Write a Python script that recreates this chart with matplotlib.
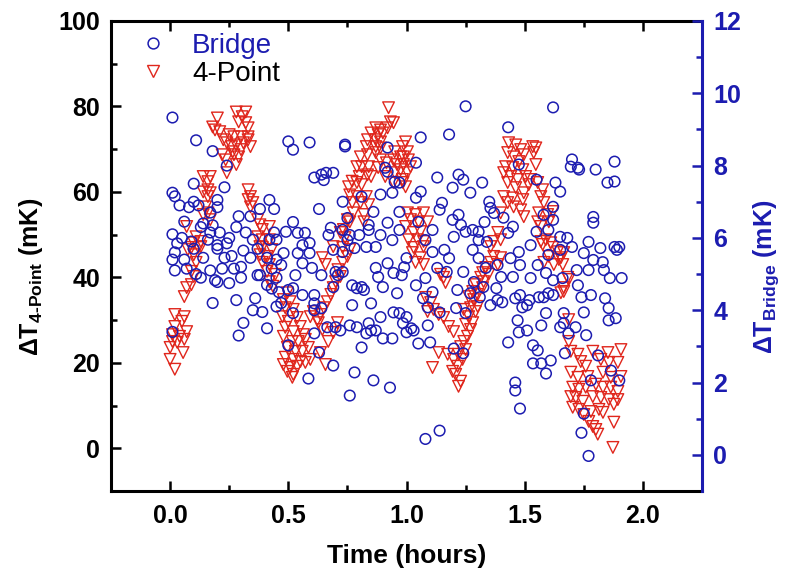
import matplotlib
matplotlib.use('Agg')
import matplotlib.pyplot as plt
from matplotlib.lines import Line2D
import numpy as np

# Bridge data: (time in hours, dT in mK) -> right axis
bridge_pts = [
    (0.01, 9.33), (0.11, 8.70), (0.18, 8.40), (0.24, 8.00), (0.10, 7.50), (0.01, 7.25), (0.02, 7.15), (0.23, 7.40),
    (0.04, 6.90), (0.10, 7.00), (0.12, 6.90), (0.08, 6.85), (0.20, 7.05), (0.20, 6.85), (0.17, 6.70),
    (0.06, 6.45), (0.14, 6.40), (0.18, 6.35), (0.29, 6.60), (0.34, 6.60), (0.38, 6.80), (0.42, 7.05), (0.44, 6.80),
    (0.01, 6.10), (0.05, 6.00), (0.13, 6.30), (0.17, 6.15), (0.21, 6.15), (0.25, 6.00), (0.28, 6.30), (0.32, 6.15), (0.44, 6.15),
    (0.03, 5.85), (0.09, 5.90), (0.16, 5.95), (0.20, 5.80), (0.24, 5.85), (0.35, 5.95), (0.42, 5.95), (0.45, 5.95),
    (0.02, 5.60), (0.10, 5.70), (0.20, 5.70), (0.31, 5.65), (0.37, 5.70),
    (0.01, 5.40), (0.06, 5.40), (0.14, 5.45), (0.23, 5.45), (0.26, 5.50), (0.34, 5.45), (0.41, 5.45), (0.45, 5.40),
    (0.02, 5.10), (0.07, 5.15), (0.17, 5.10), (0.22, 5.15), (0.27, 5.15), (0.30, 5.20), (0.37, 4.97), (0.43, 5.15), (0.47, 5.25),
    (0.11, 5.00), (0.13, 4.90), (0.30, 4.90), (0.38, 4.97), (0.41, 4.70), (0.45, 4.90),
    (0.19, 4.83), (0.20, 4.78), (0.25, 4.75), (0.43, 4.60), (0.46, 4.50),
    (0.18, 4.20), (0.28, 4.28), (0.36, 4.33), (0.35, 4.00), (0.39, 3.95), (0.45, 4.10), (0.47, 4.20),
    (0.01, 3.40), (0.31, 3.65), (0.29, 3.30), (0.41, 3.50),
    (0.50, 8.67), (0.52, 8.44), (0.59, 8.64), (0.74, 8.53), (0.74, 8.58),
    (0.61, 7.67), (0.64, 7.75), (0.66, 7.80), (0.69, 7.80), (0.65, 7.60),
    (0.92, 8.50), (0.92, 7.83), (0.91, 7.94), (0.95, 7.55), (0.97, 7.53),
    (0.73, 7.00), (0.81, 7.14), (0.89, 7.20), (0.86, 6.72), (0.94, 7.25),
    (0.63, 6.80), (0.75, 6.55), (0.97, 6.72),
    (0.52, 6.44), (0.49, 6.17), (0.54, 6.14), (0.57, 6.14), (0.56, 5.80), (0.59, 5.86), (0.68, 6.28), (0.67, 6.08),
    (0.73, 6.22), (0.76, 6.08), (0.80, 6.08), (0.84, 6.36), (0.84, 6.22), (0.89, 6.08), (0.92, 6.42), (0.94, 5.94),
    (0.97, 6.22), (0.78, 5.72), (0.83, 5.75), (0.75, 5.94),
    (0.48, 5.58), (0.54, 5.58), (0.59, 5.58), (0.69, 5.67), (0.73, 5.61), (0.87, 5.75),
    (0.53, 4.97), (0.56, 5.30), (0.60, 5.17), (0.64, 4.97), (0.70, 5.06), (0.71, 4.97), (0.73, 5.06), (0.87, 5.17),
    (0.88, 4.92), (0.92, 5.30), (0.945, 5.03), (0.98, 4.97),
    (0.50, 4.56), (0.52, 4.61), (0.56, 4.42), (0.61, 4.42), (0.69, 4.64), (0.77, 4.69), (0.79, 4.61), (0.81, 4.64),
    (0.82, 4.56), (0.90, 4.64), (0.96, 4.47),
    (0.52, 3.92), (0.61, 4.19), (0.61, 4.00), (0.64, 4.06), (0.77, 4.14), (0.85, 4.19), (0.89, 3.81), (0.945, 3.94), (0.97, 3.92),
    (0.665, 3.53), (0.70, 3.53), (0.72, 3.44), (0.76, 3.58), (0.79, 3.53), (0.84, 3.64), (0.83, 3.36), (0.85, 3.44),
    (0.87, 3.44), (0.90, 3.22), (0.94, 3.22),
    (0.61, 3.36), (0.50, 3.03), (0.81, 2.97), (0.63, 2.83),
    (0.69, 2.47), (0.78, 2.28), (0.585, 2.11), (0.86, 2.06), (0.93, 1.86), (0.76, 1.64),
    (1.25, 9.64), (1.43, 9.06), (1.06, 8.78), (1.18, 8.86), (1.04, 8.08), (1.475, 8.03),
    (1.13, 7.67), (1.22, 7.75), (1.24, 7.61), (1.32, 7.53), (1.195, 7.39), (1.27, 7.25),
    (1.06, 7.28), (1.04, 7.11), (1.15, 6.97), (1.14, 6.78), (1.35, 7.00), (1.355, 6.83), (1.37, 6.69),
    (1.22, 6.64), (1.195, 6.50), (1.23, 6.36), (1.33, 6.44), (1.41, 6.56), (1.45, 6.31),
    (1.05, 6.44), (1.11, 6.22), (1.20, 6.03), (1.25, 6.17), (1.28, 6.22), (1.305, 6.17), (1.305, 5.94), (1.34, 5.89),
    (1.43, 6.14), (1.08, 5.94),
    (1.00, 5.44), (0.99, 5.19), (1.11, 5.61), (1.16, 5.67), (1.18, 5.44), (1.13, 5.17), (1.17, 5.06), (1.24, 5.06),
    (1.28, 5.67), (1.305, 5.44), (1.335, 5.17), (1.385, 5.25), (1.44, 5.44), (1.475, 5.61), (1.48, 5.25),
    (1.04, 4.69), (1.08, 4.89), (1.11, 4.50), (1.215, 4.56), (1.27, 4.47), (1.325, 4.64), (1.40, 4.92), (1.45, 4.92),
    (1.285, 4.78), (1.38, 4.61),
    (1.07, 4.33), (1.09, 4.08), (1.14, 3.94), (1.21, 4.06), (1.25, 3.92), (1.31, 4.36), (1.355, 4.14), (1.385, 4.28),
    (1.405, 4.22), (1.46, 4.33), (1.48, 4.42),
    (1.00, 3.81), (0.985, 3.64), (1.02, 3.50), (1.00, 3.39), (1.09, 3.58), (1.03, 3.44),
    (1.05, 3.08), (1.10, 3.11), (1.20, 2.94), (1.24, 2.81), (1.43, 3.11), (1.47, 3.72), (1.475, 3.39),
    (1.46, 2.00), (1.46, 1.78), (1.48, 1.28),
    (1.08, 0.44), (1.14, 0.67),
    (1.62, 9.61), (1.70, 8.17), (1.695, 7.97), (1.73, 7.89), (1.725, 7.94), (1.80, 7.89), (1.88, 8.11),
    (1.63, 7.53), (1.65, 7.28), (1.85, 7.53), (1.88, 7.56), (1.55, 7.61),
    (1.62, 6.86), (1.58, 6.64), (1.62, 6.50), (1.79, 6.58), (1.79, 6.42), (1.55, 6.17), (1.60, 6.22),
    (1.65, 6.03), (1.68, 6.00), (1.77, 5.89), (1.525, 5.80), (1.70, 5.75), (1.82, 5.72), (1.88, 5.75), (1.90, 5.75),
    (1.60, 5.53), (1.65, 5.67), (1.75, 5.58), (1.79, 5.39), (1.83, 5.33), (1.89, 5.67),
    (1.555, 5.25), (1.59, 5.03), (1.525, 4.89), (1.62, 4.83), (1.66, 4.89), (1.72, 5.11), (1.77, 5.11), (1.835, 5.11),
    (1.86, 4.89), (1.91, 4.89),
    (1.725, 4.69), (1.60, 4.47), (1.62, 4.42), (1.74, 4.36), (1.78, 4.42), (1.52, 4.28), (1.56, 4.36), (1.58, 4.36),
    (1.49, 4.08), (1.51, 4.14), (1.84, 4.33), (1.855, 4.06),
    (1.59, 3.92), (1.665, 3.92), (1.75, 3.94), (1.57, 3.58), (1.51, 3.44), (1.65, 3.53), (1.665, 3.64), (1.685, 3.36),
    (1.715, 3.53), (1.855, 3.72), (1.885, 3.78), (1.76, 3.31),
    (1.535, 3.03), (1.555, 2.89), (1.67, 2.81), (1.61, 2.61), (1.535, 2.53), (1.57, 2.53), (1.59, 2.25), (1.81, 2.75),
    (1.865, 2.33), (1.90, 2.06), (1.78, 2.06),
    (1.75, 1.14), (1.74, 0.61), (1.77, -0.03),
]

# 4-Point data: (time in hours, dT in mK) -> left axis
four_point_pts = [
    (0.02, 31.3), (0.06, 30.8), (0.05, 29.7), (0.02, 28.5), (0.07, 27.3), (0.01, 26.6), (0.04, 26.2), (0.01, 25.0),
    (0.03, 24.8), (0.00, 23.6), (0.055, 22.4), (0.00, 20.8), (0.02, 18.5), (0.06, 25.5),
    (0.09, 47.0), (0.13, 47.2), (0.10, 45.3), (0.11, 43.5), (0.09, 41.4), (0.10, 40.2), (0.09, 38.3), (0.07, 37.6), (0.06, 35.5),
    (0.11, 49.5), (0.13, 48.4), (0.10, 48.1), (0.12, 47.0), (0.07, 51.9), (0.075, 46.5),
    (0.15, 56.5), (0.16, 55.1), (0.14, 54.7), (0.17, 53.5),
    (0.14, 63.6), (0.17, 63.6), (0.16, 62.4), (0.16, 60.5), (0.14, 60.0), (0.17, 59.8), (0.16, 58.9),
    (0.20, 77.3), (0.18, 75.2), (0.19, 74.5), (0.21, 74.1),
    (0.28, 78.7), (0.32, 78.7), (0.305, 77.6), (0.29, 76.4), (0.32, 76.2), (0.33, 75.0),
    (0.25, 73.4), (0.27, 72.9), (0.30, 72.9), (0.33, 72.9), (0.225, 72.2), (0.24, 71.5), (0.26, 70.6), (0.28, 71.0),
    (0.31, 71.5), (0.33, 72.2), (0.30, 69.9), (0.265, 69.4), (0.27, 68.7), (0.22, 68.7), (0.235, 67.5), (0.28, 66.4),
    (0.24, 64.5), (0.29, 68.2), (0.34, 70.6),
    (0.33, 60.5), (0.34, 58.9), (0.33, 58.2), (0.35, 57.5), (0.34, 56.5),
    (0.37, 53.5), (0.38, 52.3), (0.39, 51.2), (0.42, 51.9), (0.37, 49.5), (0.39, 48.8), (0.42, 48.8), (0.38, 47.2),
    (0.39, 47.0), (0.43, 46.5), (0.38, 45.3), (0.41, 44.9), (0.39, 43.5), (0.42, 43.0), (0.41, 41.4), (0.445, 40.7),
    (0.42, 39.0), (0.435, 37.9),
    (0.496, 36.4), (0.479, 34.8), (0.508, 34.3), (0.487, 32.9), (0.521, 32.5), (0.475, 30.8), (0.50, 29.7), (0.538, 30.6),
    (0.551, 28.5), (0.487, 28.3), (0.521, 27.3), (0.564, 26.6), (0.479, 26.2), (0.517, 25.0), (0.542, 25.0), (0.572, 25.5),
    (0.496, 23.6), (0.53, 22.7), (0.559, 22.7), (0.487, 21.3), (0.521, 20.8), (0.551, 20.3), (0.479, 19.6), (0.508, 18.9),
    (0.538, 19.2), (0.572, 20.1), (0.496, 18.0), (0.521, 17.3), (0.517, 16.6), (0.593, 20.8), (0.585, 23.6),
    (0.636, 22.4), (0.657, 19.6), (0.669, 25.0), (0.69, 27.1), (0.708, 29.4),
    (0.76, 46.5), (0.75, 44.9), (0.73, 43.5), (0.71, 41.8), (0.72, 40.2), (0.70, 39.0), (0.69, 37.6), (0.68, 36.0),
    (0.665, 34.3), (0.65, 32.9), (0.636, 31.3), (0.627, 29.4), (0.644, 27.8), (0.606, 32.0), (0.593, 30.8), (0.623, 30.1),
    (0.644, 44.6), (0.657, 43.0), (0.69, 47.2), (0.72, 50.5), (0.733, 51.2), (0.75, 53.5),
    (0.74, 49.3), (0.73, 47.0),
    (0.76, 59.3), (0.79, 58.9), (0.83, 58.9), (0.77, 57.5), (0.805, 57.5), (0.84, 57.0), (0.775, 55.1), (0.82, 54.7),
    (0.76, 53.0), (0.82, 53.0), (0.77, 62.5), (0.755, 61.2),
    (0.924, 79.7), (0.932, 76.4), (0.945, 76.2), (0.92, 75.0), (0.87, 75.0), (0.89, 74.5), (0.85, 73.8), (0.88, 73.4),
    (0.90, 73.8), (0.835, 72.2), (0.87, 72.2), (0.89, 71.7), (0.83, 70.6), (0.87, 70.6), (0.89, 70.3), (0.805, 68.2),
    (0.835, 68.7), (0.87, 69.2), (0.95, 69.4), (0.975, 68.2), (0.945, 67.5), (0.89, 67.5), (0.915, 66.8), (0.96, 66.4),
    (0.79, 65.9), (0.81, 65.9), (0.84, 65.9), (0.88, 65.7), (0.835, 64.0), (0.80, 63.6), (0.85, 63.6), (0.79, 62.2),
    (0.81, 61.7), (0.975, 65.2), (0.95, 64.5), (0.91, 63.6), (0.945, 62.2), (0.985, 62.2),
    (0.996, 71.7), (0.983, 70.6), (1.004, 69.4), (0.987, 68.2), (1.008, 67.5), (0.987, 66.4), (1.017, 65.9), (1.004, 64.5),
    (0.983, 62.9), (0.996, 61.2),
    (1.004, 55.1), (1.038, 54.7), (1.072, 55.1), (1.017, 53.5), (1.051, 53.0), (1.089, 53.0), (0.996, 51.9), (1.03, 50.5),
    (1.059, 50.7), (1.008, 48.8), (1.047, 48.8), (1.072, 48.4),
    (1.025, 45.8), (1.059, 44.6), (1.038, 43.5), (1.072, 43.0), (1.03, 47.0), (1.072, 47.2),
    (1.157, 40.0), (1.165, 38.8), (1.144, 40.7),
    (1.081, 35.3), (1.102, 34.1), (1.114, 32.5), (1.136, 31.3), (1.089, 32.0), (1.157, 30.6), (1.178, 28.5), (1.199, 27.3),
    (1.136, 22.4), (1.174, 22.0), (1.11, 18.9),
    (1.369, 44.9), (1.398, 44.6), (1.356, 43.5), (1.386, 43.0), (1.335, 42.3), (1.322, 41.1), (1.347, 40.7), (1.314, 40.0),
    (1.326, 39.0), (1.292, 38.3), (1.322, 37.6), (1.28, 36.7), (1.301, 36.0), (1.263, 35.5), (1.284, 34.8), (1.301, 33.2),
    (1.271, 32.9), (1.292, 32.0), (1.242, 32.5), (1.263, 30.8), (1.28, 29.4), (1.25, 29.0), (1.271, 27.8), (1.258, 26.2),
    (1.242, 25.0), (1.229, 23.8), (1.25, 23.1), (1.22, 22.0), (1.237, 20.8), (1.199, 20.8), (1.216, 19.2), (1.195, 18.0),
    (1.208, 17.3), (1.229, 15.7), (1.22, 14.5),
    (1.386, 50.5), (1.398, 48.8), (1.369, 48.4), (1.356, 47.2),
    (1.432, 71.5), (1.462, 71.0), (1.483, 69.9), (1.428, 69.2), (1.453, 68.2), (1.475, 67.1), (1.419, 65.9), (1.449, 65.7),
    (1.492, 65.2), (1.411, 64.5), (1.441, 63.6), (1.47, 62.9), (1.428, 62.2), (1.462, 61.0), (1.411, 58.9), (1.449, 58.6),
    (1.428, 57.5), (1.453, 56.5), (1.483, 55.8), (1.398, 55.1),
    (1.534, 70.6), (1.547, 70.3), (1.538, 69.2), (1.496, 68.7), (1.547, 66.4), (1.504, 63.6), (1.525, 62.9), (1.555, 62.2),
    (1.576, 60.5), (1.517, 61.7), (1.496, 59.8), (1.492, 58.2), (1.568, 58.9), (1.581, 57.5), (1.559, 55.1), (1.597, 54.7),
    (1.619, 55.4), (1.496, 54.2), (1.555, 53.0), (1.602, 53.0), (1.568, 51.9), (1.589, 48.8), (1.61, 48.1), (1.576, 47.7),
    (1.619, 47.0), (1.64, 46.0), (1.665, 45.8), (1.602, 44.9), (1.653, 44.6), (1.581, 43.5), (1.623, 43.0), (1.661, 43.0),
    (1.682, 40.0), (1.665, 37.6), (1.686, 39.5), (1.665, 36.7), (1.653, 36.4), (1.568, 48.4), (1.644, 44.2),
    (1.686, 30.1), (1.686, 25.0), (1.695, 22.7), (1.725, 22.0), (1.737, 20.3), (1.758, 19.2), (1.695, 17.8), (1.725, 16.6),
    (1.767, 16.8), (1.703, 14.3), (1.729, 13.8), (1.758, 14.3), (1.695, 12.1), (1.716, 11.9), (1.746, 11.0), (1.703, 9.6),
    (1.729, 9.1), (1.75, 7.9), (1.78, 8.6), (1.771, 6.3), (1.788, 5.1), (1.809, 3.3), (1.801, 4.4),
    (1.788, 22.7), (1.852, 22.4), (1.907, 23.1), (1.822, 20.8), (1.856, 20.1), (1.894, 20.1), (1.831, 17.8), (1.864, 16.6),
    (1.907, 16.8), (1.801, 15.0), (1.831, 14.3), (1.864, 14.3), (1.894, 13.3), (1.788, 12.1), (1.822, 11.9), (1.856, 11.4),
    (1.894, 11.4), (1.814, 9.1), (1.877, 10.3), (1.831, 8.4), (1.877, 6.1), (1.873, 0.2),
]

bridge_t, bridge_dT = np.array(bridge_pts).T
four_t, four_dT = np.array(four_point_pts).T

x_ticks = [0.0, 0.5, 1.0, 1.5, 2.0]
left_ticks = [0, 20, 40, 60, 80, 100]
right_ticks = [0, 2, 4, 6, 8, 10, 12]

blue = '#1c1cb0'
red = '#e0261c'

plt.rcParams['font.family'] = ['Liberation Sans', 'DejaVu Sans']
plt.rcParams['font.weight'] = 'bold'
plt.rcParams['mathtext.fontset'] = 'custom'
plt.rcParams['mathtext.rm'] = 'Liberation Sans:bold'
plt.rcParams['mathtext.it'] = 'Liberation Sans:bold'
plt.rcParams['mathtext.bf'] = 'Liberation Sans:bold'
plt.rcParams['mathtext.default'] = 'rm'

fig = plt.figure(figsize=(7.85, 5.78), dpi=100)
ax = fig.add_axes([0.1414, 0.1505, 0.7529, 0.8132])
ax2 = ax.twinx()

ax.scatter(four_t, four_dT, marker='v', s=70, facecolors='none', edgecolors=red, linewidths=1.0)
ax2.scatter(bridge_t, bridge_dT, marker='o', s=58, facecolors='none', edgecolors=blue, linewidths=1.1)

ax.set_xlim(-0.25, 2.25)
ax.set_ylim(-10, 100)
ax2.set_ylim(-1, 12)

ax.set_xticks(x_ticks)
ax.set_xticks([-0.25 + 0.5 * i for i in range(1, 5)], minor=True)
ax.set_xticklabels(['%.1f' % v for v in x_ticks])
ax.set_yticks(left_ticks)
ax.set_yticks([10, 30, 50, 70, 90], minor=True)
ax2.set_yticks(right_ticks)
ax2.set_yticks([1, 3, 5, 7, 9, 11], minor=True)

ax.tick_params(axis='both', which='major', direction='in', length=7, width=1.8, labelsize=18, top=True, right=False, pad=8)
ax.tick_params(axis='both', which='minor', direction='in', length=4, width=1.8, top=True, right=False)
ax.tick_params(axis='x', which='major', pad=9)
ax2.tick_params(axis='y', which='major', direction='in', length=7, width=1.8, labelsize=18, colors=blue, pad=8)
ax2.tick_params(axis='y', which='minor', direction='in', length=4, width=1.8, colors=blue)

for s in ['left', 'top', 'bottom']:
    ax.spines[s].set_linewidth(2.2)
ax.spines['right'].set_visible(False)
for s in ['left', 'top', 'bottom']:
    ax2.spines[s].set_visible(False)
ax2.spines['right'].set_linewidth(2.2)
ax2.spines['right'].set_color(blue)

ax.set_xlabel('Time (hours)', fontsize=19, fontweight='bold', labelpad=12)
ax.set_ylabel(r'$\Delta$T$_{4\text{-}Point}$ (mK)', fontsize=18, fontweight='bold')
ax2.set_ylabel(r'$\Delta$T$_{Bridge}$ (mK)', fontsize=18, fontweight='bold', color=blue)
ax.yaxis.set_label_coords(-0.112, 0.455)
ax2.yaxis.set_label_coords(1.083, 0.455)

handles = [
    Line2D([], [], marker='o', ls='none', mfc='none', mec=blue, ms=7.8, mew=1.1),
    Line2D([], [], marker='v', ls='none', mfc='none', mec=red, ms=8.8, mew=1.0),
]
leg = ax2.legend(handles, ['Bridge', '4-Point'], loc='upper left', bbox_to_anchor=(0.048, 0.975),
                 frameon=False, handlelength=1.0, handletextpad=0.9,
                 borderpad=0, borderaxespad=0, labelspacing=0.08,
                 prop={'family': 'Liberation Sans', 'weight': 'normal', 'size': 20})
leg.get_texts()[0].set_color(blue)
leg.get_texts()[1].set_color('black')

fig.savefig('out.png', dpi=100)
